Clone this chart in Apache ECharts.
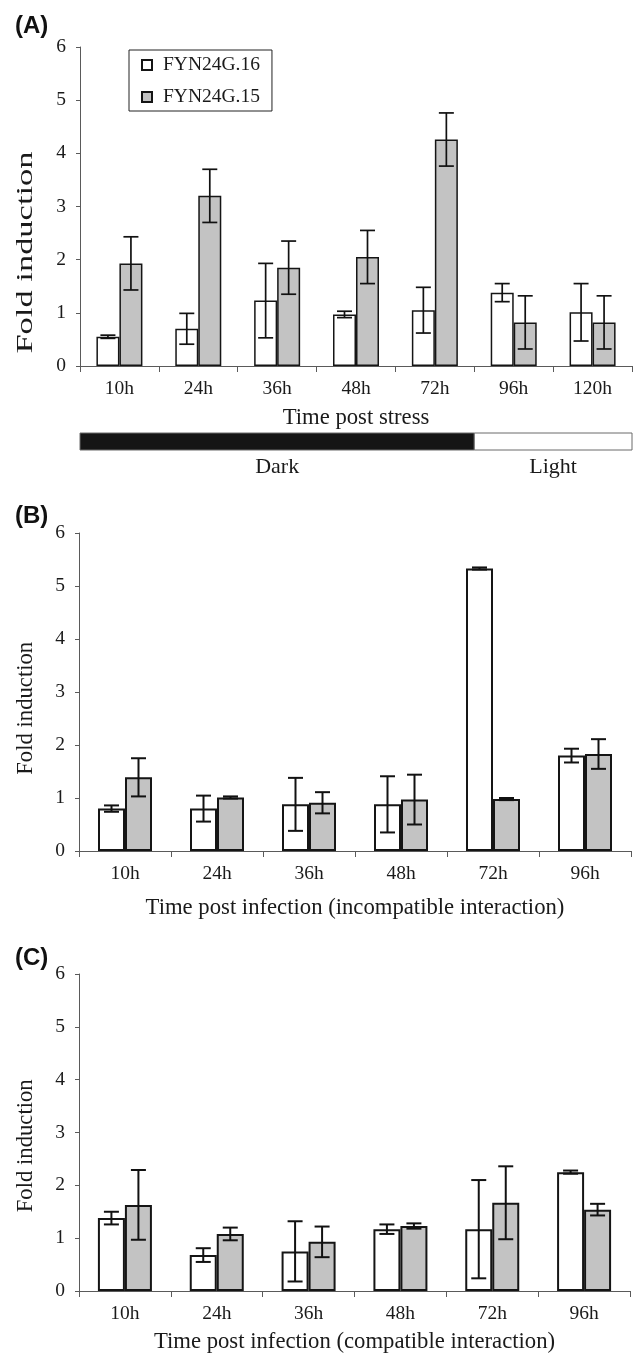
<!DOCTYPE html>
<html><head><meta charset="utf-8">
<script src="https://cdn.jsdelivr.net/npm/echarts@6/dist/echarts.min.js"></script>
<style>html,body{margin:0;padding:0;background:#fff}#chart{width:636px;height:1355px}</style>
</head><body><div id="chart"></div>
<script>
// ---------------- DATA ----------------
const seriesNames = ['FYN24G.16', 'FYN24G.15'];

const catsA = ['10h', '24h', '36h', '48h', '72h', '96h', '120h'];
const A16 = [0.55, 0.70, 1.23, 0.97, 1.05, 1.38, 1.01];
const A16err = [0.03, 0.29, 0.70, 0.06, 0.43, 0.17, 0.54];
const A15 = [1.93, 3.20, 1.85, 2.05, 4.26, 0.82, 0.82];
const A15err = [0.50, 0.50, 0.50, 0.50, 0.50, 0.50, 0.50];

const catsB = ['10h', '24h', '36h', '48h', '72h', '96h'];
const B16 = [0.80, 0.80, 0.88, 0.88, 5.33, 1.80];
const B16err = [0.06, 0.245, 0.50, 0.53, 0.02, 0.13];
const B15 = [1.39, 1.01, 0.91, 0.97, 0.98, 1.83];
const B15err = [0.36, 0.02, 0.20, 0.47, 0.02, 0.28];

const catsC = ['10h', '24h', '36h', '48h', '72h', '96h'];
const C16 = [1.38, 0.68, 0.75, 1.17, 1.17, 2.25];
const C16err = [0.12, 0.13, 0.57, 0.09, 0.93, 0.03];
const C15 = [1.63, 1.08, 0.93, 1.23, 1.67, 1.54];
const C15err = [0.66, 0.12, 0.29, 0.05, 0.69, 0.11];

const yTicks = [0, 1, 2, 3, 4, 5, 6];

const phaseNames = ['Dark', 'Light'];
const phaseStart = ['10h', '96h'];
const phaseEnd = ['72h', '120h'];

const panelLetters = ['(A)', '(B)', '(C)'];
const xTitles = ['Time post stress', 'Time post infection (incompatible interaction)', 'Time post infection (compatible interaction)'];
const yTitle = 'Fold induction';

// ---------------- STYLE ----------------
const SERIF = '"Liberation Serif", "Times New Roman", serif';
const SANS = '"Liberation Sans", Arial, sans-serif';
const AXIS_COLOR = '#5a5a5a';
const TEXT_COLOR = '#1a1a1a';
const EDGE = '#151515';
const FILLS = ['#ffffff', '#c3c3c3'];

const panels = [
  {cats: catsA, v: [A16, A15], e: [A16err, A15err], grid: {left: 80, top: 47, width: 552, height: 319}, barW: 23, bw: 1.5, ew: 1.7, nameGap: 41},
  {cats: catsB, v: [B16, B15], e: [B16err, B15err], grid: {left: 79, top: 533, width: 552, height: 318}, barW: 27, bw: 2, ew: 2, nameGap: 46},
  {cats: catsC, v: [C16, C15], e: [C16err, C15err], grid: {left: 79, top: 974, width: 551, height: 319}, barW: 27, bw: 2, ew: 2, nameGap: 40}
];

const grids = [], xAxes = [], yAxes = [], series = [];

function errRender(sign, barW, lw) {
  return function (params, api) {
    const i = api.value(0), v = api.value(1), e = api.value(2);
    const t = api.coord([i, v + e]);
    const b = api.coord([i, v - e]);
    const x = t[0] + sign * barW / 2;
    const cap = 7.5;
    const st = {stroke: '#111', lineWidth: lw};
    return {type: 'group', children: [
      {type: 'line', shape: {x1: x, y1: t[1], x2: x, y2: b[1]}, style: st},
      {type: 'line', shape: {x1: x - cap, y1: t[1], x2: x + cap, y2: t[1]}, style: st},
      {type: 'line', shape: {x1: x - cap, y1: b[1], x2: x + cap, y2: b[1]}, style: st}
    ]};
  };
}

panels.forEach((p, gi) => {
  grids.push(Object.assign({containLabel: false}, p.grid));
  xAxes.push({
    type: 'category', gridIndex: gi, data: p.cats,
    axisLine: {show: true, lineStyle: {color: AXIS_COLOR, width: 1}},
    axisTick: {show: true, length: 6, alignWithLabel: false, lineStyle: {color: AXIS_COLOR}},
    axisLabel: {fontFamily: SERIF, fontSize: 19.5, color: TEXT_COLOR, margin: 13},
    name: xTitles[gi], nameLocation: 'middle', nameGap: p.nameGap,
    nameTextStyle: {fontFamily: SERIF, fontSize: 22.7, color: TEXT_COLOR}
  });
  yAxes.push({
    type: 'value', gridIndex: gi, min: yTicks[0], max: yTicks[yTicks.length - 1], interval: 1,
    axisLine: {show: true, lineStyle: {color: AXIS_COLOR, width: 1}},
    axisTick: {show: true, length: 4, lineStyle: {color: AXIS_COLOR}},
    axisLabel: {fontFamily: SERIF, fontSize: 19.5, color: TEXT_COLOR, margin: 14},
    splitLine: {show: false}
  });
  [0, 1].forEach(k => {
    series.push({
      type: 'bar', name: seriesNames[k], xAxisIndex: gi, yAxisIndex: gi,
      data: p.v[k], barWidth: p.barW, barGap: '0%',
      itemStyle: {color: FILLS[k], borderColor: EDGE, borderWidth: p.bw},
      emphasis: {disabled: true}, animation: false
    });
  });
  [0, 1].forEach(k => {
    series.push({
      type: 'custom', xAxisIndex: gi, yAxisIndex: gi, z: 5,
      data: p.cats.map((c, i) => [i, p.v[k][i], p.e[k][i]]),
      encode: {x: 0, y: 1},
      renderItem: errRender(k === 0 ? -1 : 1, p.barW, p.ew),
      animation: false, silent: true
    });
  });
});

// Dark / Light strip under panel A
grids.push({left: 80, top: 433, width: 552, height: 17});
xAxes.push({type: 'category', gridIndex: 3, data: catsA, show: false});
yAxes.push({type: 'value', gridIndex: 3, min: 0, max: 1, show: false});
series.push({
  type: 'custom', xAxisIndex: 3, yAxisIndex: 3, silent: true, animation: false,
  data: phaseNames.map((n, k) => [catsA.indexOf(phaseStart[k]), catsA.indexOf(phaseEnd[k])]),
  encode: {x: [0, 1]},
  renderItem: function (params, api) {
    const s = api.coord([api.value(0), 0]);
    const e = api.coord([api.value(1), 1]);
    const band = api.size([1, 0])[0];
    const x0 = s[0] - band / 2, x1 = e[0] + band / 2;
    const name = phaseNames[params.dataIndex];
    return {type: 'group', children: [
      {type: 'rect', shape: {x: x0, y: e[1], width: x1 - x0, height: s[1] - e[1]},
       style: {fill: name === 'Dark' ? '#151515' : '#ffffff', stroke: '#6a6a6a', lineWidth: 1}},
      {type: 'text', style: {text: name, x: (x0 + x1) / 2, y: s[1] + 17, align: 'center', verticalAlign: 'middle',
        fontFamily: SERIF, fontSize: 22, fill: TEXT_COLOR}}
    ]};
  }
});

const graphics = [];
const letterY = [28, 518, 960];
panelLetters.forEach((t, i) => {
  graphics.push({type: 'text', left: 15, top: letterY[i] - 14,
    style: {text: t, fontFamily: SANS, fontWeight: 'bold', fontSize: 24, fill: '#111'}});
});
const yTitlePos = [[26, 252.5, 1.52], [26.5, 708.3, 1], [26.5, 1145.8, 1]];
yTitlePos.forEach(p => {
  graphics.push({type: 'text', x: p[0], y: p[1], rotation: Math.PI / 2, scaleX: p[2], scaleY: 1,
    style: {text: yTitle, align: 'center', verticalAlign: 'middle', fontFamily: SERIF, fontSize: 22.7, fill: TEXT_COLOR}});
});

const chart = echarts.init(document.getElementById('chart'));
chart.setOption({
  animation: false,
  backgroundColor: '#ffffff',
  grid: grids, xAxis: xAxes, yAxis: yAxes, series: series,
  legend: {
    data: seriesNames, orient: 'vertical', left: 129, top: 50,
    padding: [5, 12, 4, 12], itemGap: 12, itemWidth: 10, itemHeight: 10, icon: 'rect',
    borderColor: '#222', borderWidth: 1, selectedMode: false,
    textStyle: {fontFamily: SERIF, fontSize: 19.5, color: TEXT_COLOR, lineHeight: 20, padding: [0, 0, 0, 6]}
  },
  graphic: graphics
});
</script></body></html>
